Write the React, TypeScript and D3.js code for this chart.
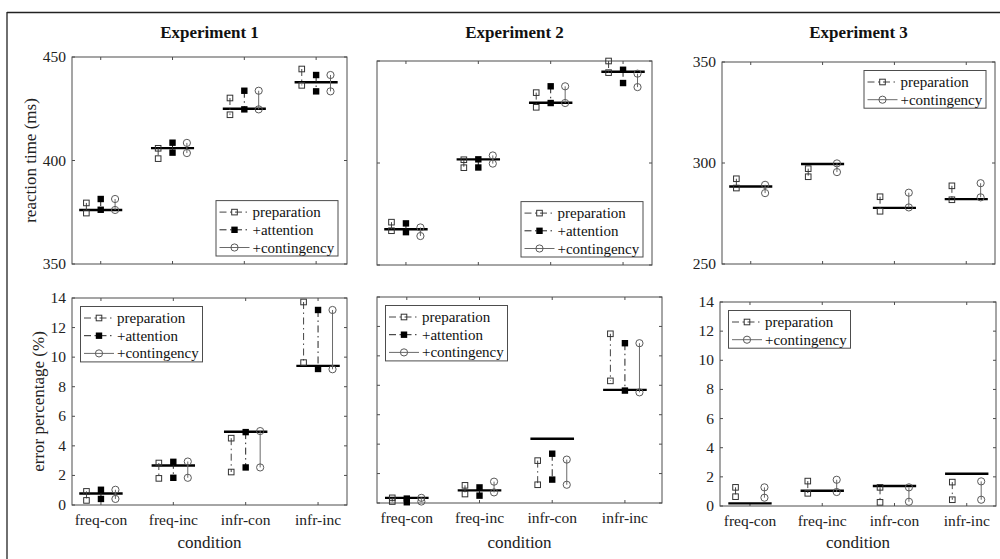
import React from 'react';
import * as d3 from 'd3';

const conditions = ['freq-con', 'freq-inc', 'infr-con', 'infr-inc'];

// reaction time (ms): observed mean and [from, to] per model variant
const rt1Observed = [376.1, 406.0, 425.0, 437.8];
const rt1Preparation = [[379.5, 374.6], [405.9, 400.9], [430.2, 422.1], [444.2, 436.3]];
const rt1Attention = [[381.4, 376.2], [408.6, 403.8], [433.7, 424.7], [441.3, 433.4]];
const rt1Contingency = [[381.4, 376.1], [408.5, 403.6], [433.7, 424.7], [441.3, 433.4]];

const rt2Observed = [367.5, 401.8, 429.5, 444.7];
const rt2Preparation = [[371.0, 366.8], [401.6, 397.7], [434.5, 427.3], [450.0, 444.3]];
const rt2Attention = [[370.4, 366.1], [401.8, 397.8], [437.6, 429.4], [445.7, 439.2]];
const rt2Contingency = [[368.4, 364.2], [403.7, 399.7], [437.6, 429.4], [443.8, 437.2]];

const rt3Observed = [288.4, 299.5, 277.8, 282.1];
const rt3Preparation = [[292.2, 287.6], [297.2, 293.2], [283.3, 276.1], [288.7, 281.8]];
const rt3Contingency = [[289.2, 285.1], [299.8, 295.5], [285.3, 278.0], [290.0, 283.0]];

// error percentage (%)
const err1Observed = [0.78, 2.67, 4.95, 9.41];
const err1Preparation = [[0.92, 0.31], [2.84, 1.80], [4.52, 2.23], [13.73, 9.63]];
const err1Attention = [[1.03, 0.41], [2.92, 1.84], [4.93, 2.54], [13.19, 9.20]];
const err1Contingency = [[1.03, 0.41], [2.94, 1.84], [5.0, 2.54], [13.19, 9.18]];

const err2Observed = [0.35, 0.86, 4.37, 7.69];
const err2Preparation = [[0.35, 0.1], [1.2, 0.61], [2.88, 1.24], [11.5, 8.3]];
const err2Attention = [[0.3, 0.05], [1.06, 0.5], [3.35, 1.59], [10.86, 7.64]];
const err2Contingency = [[0.35, 0.1], [1.45, 0.72], [2.95, 1.24], [10.86, 7.52]];

const err3Observed = [0.18, 1.05, 1.37, 2.21];
const err3Preparation = [[1.28, 0.64], [1.71, 0.87], [1.28, 0.25], [1.64, 0.43]];
const err3Contingency = [[1.28, 0.57], [1.80, 0.96], [1.28, 0.29], [1.69, 0.43]];

const rtTicksA = [350, 400, 450];
const rtTicksB = [250, 300, 350];
const errTicks = [0, 2, 4, 6, 8, 10, 12, 14];

const FONT = "'Liberation Serif', 'Times New Roman', 'DejaVu Serif', serif";
const AXIS = '#4d4d4d';
const DASHDOT = '7,3.5,1.5,3.5';

const styles: any = {
  preparation: { label: 'preparation', marker: 'square', dash: DASHDOT, color: '#444' },
  attention: { label: '+attention', marker: 'filled', dash: DASHDOT, color: '#222' },
  contingency: { label: '+contingency', marker: 'circle', dash: null, color: '#6a6a6a' },
};

const panels: any[] = [
  {
    title: 'Experiment 1', box: { l: 72, t: 57, r: 347, b: 264 }, xDomain: [0.6, 4.43],
    yDomain: [350, 450], yTicks: rtTicksA, yLabels: true, xLabels: false, yLabel: 'reaction time (ms)',
    observed: rt1Observed, legend: 'se',
    series: [['preparation', rt1Preparation], ['attention', rt1Attention], ['contingency', rt1Contingency]],
  },
  {
    title: 'Experiment 2', box: { l: 377, t: 61, r: 652, b: 265 }, xDomain: [0.6, 4.4],
    yDomain: [350, 450], yTicks: rtTicksA, yLabels: false, xLabels: false,
    observed: rt2Observed, legend: 'se',
    series: [['preparation', rt2Preparation], ['attention', rt2Attention], ['contingency', rt2Contingency]],
  },
  {
    title: 'Experiment 3', box: { l: 722, t: 62, r: 995, b: 264 }, xDomain: [0.6, 4.4],
    yDomain: [250, 350], yTicks: rtTicksB, yLabels: true, xLabels: false,
    observed: rt3Observed, legend: 'ne',
    series: [['preparation', rt3Preparation], ['contingency', rt3Contingency]],
  },
  {
    box: { l: 72, t: 298, r: 347, b: 505 }, xDomain: [0.6, 4.4],
    yDomain: [0, 14], yTicks: errTicks, yLabels: true, xLabels: true, yLabel: 'error percentage (%)',
    observed: err1Observed, legend: 'nw',
    series: [['preparation', err1Preparation], ['attention', err1Attention], ['contingency', err1Contingency]],
  },
  {
    box: { l: 377, t: 297, r: 662, b: 503 }, xDomain: [0.59, 4.51],
    yDomain: [0, 14], yTicks: errTicks, yLabels: false, xLabels: true,
    observed: err2Observed, legend: 'nw',
    series: [['preparation', err2Preparation], ['attention', err2Attention], ['contingency', err2Contingency]],
  },
  {
    box: { l: 720, t: 302, r: 996, b: 506 }, xDomain: [0.585, 4.405],
    yDomain: [0, 14], yTicks: errTicks, yLabels: true, xLabels: true,
    observed: err3Observed, legend: 'nw',
    series: [['preparation', err3Preparation], ['contingency', err3Contingency]],
  },
];

function Marker({ kind, x, y }: any) {
  if (kind === 'circle') return <circle cx={x} cy={y} r={3.6} fill="none" stroke="#5a5a5a" strokeWidth={1} />;
  if (kind === 'filled') return <rect x={x - 3.2} y={y - 3.2} width={6.4} height={6.4} fill="#000" />;
  return <rect x={x - 2.8} y={y - 2.8} width={5.6} height={5.6} fill="none" stroke="#333" strokeWidth={1} />;
}

function Legend({ box, corner, keys }: any) {
  const w = 122;
  const h = 20 + (keys.length - 1) * 17.7;
  const left = corner === 'nw' ? box.l + 8.5 : box.r - 9 - w;
  const top = corner === 'se' ? box.b - 8 - h : box.t + 8.5;
  return (
    <g>
      <rect x={left} y={top} width={w} height={h} fill="#fff" stroke={AXIS} strokeWidth={1} />
      {keys.map((k: string, i: number) => {
        const s = styles[k];
        const cy = top + 11.5 + i * 17.7;
        return (
          <g key={k}>
            <line x1={left + 3.5} x2={left + 33.5} y1={cy} y2={cy} stroke={s.color} strokeWidth={1}
              strokeDasharray={s.dash || undefined} />
            <Marker kind={s.marker} x={left + 18.5} y={cy} />
            <text x={left + 36.5} y={cy + 5} fontSize={15} style={{ fontFamily: FONT }} fill="#111">{s.label}</text>
          </g>
        );
      })}
    </g>
  );
}

function Panel({ p }: any) {
  const { box } = p;
  const x = d3.scaleLinear().domain(p.xDomain).range([box.l, box.r]);
  const y = d3.scaleLinear().domain(p.yDomain).range([box.b, box.t]);
  const offsets = p.series.length === 3 ? [-0.2, 0, 0.2] : [-0.2, 0.2];
  const tickLen = 3;
  const cx = (box.l + box.r) / 2;
  const cy = (box.t + box.b) / 2;
  return (
    <g>
      <rect x={box.l} y={box.t} width={box.r - box.l} height={box.b - box.t} fill="#fff" stroke={AXIS} strokeWidth={1} />
      {conditions.map((c, i) => (
        <g key={c}>
          <line x1={x(i + 1)} x2={x(i + 1)} y1={box.b} y2={box.b - tickLen} stroke={AXIS} />
          <line x1={x(i + 1)} x2={x(i + 1)} y1={box.t} y2={box.t + tickLen} stroke={AXIS} />
          {p.xLabels && (
            <text x={x(i + 1)} y={box.b + 20} textAnchor="middle" fontSize={15.5} style={{ fontFamily: FONT }} fill="#222">{c}</text>
          )}
        </g>
      ))}
      {p.yTicks.map((t: number) => (
        <g key={t}>
          <line x1={box.l} x2={box.l + tickLen} y1={y(t)} y2={y(t)} stroke={AXIS} />
          <line x1={box.r} x2={box.r - tickLen} y1={y(t)} y2={y(t)} stroke={AXIS} />
          {p.yLabels && (
            <text x={box.l - 6} y={y(t) + 5} textAnchor="end" fontSize={15.5} style={{ fontFamily: FONT }} fill="#222">{t}</text>
          )}
        </g>
      ))}
      {p.observed.map((v: number, i: number) => (
        <line key={i} x1={x(i + 1 - 0.3)} x2={x(i + 1 + 0.3)} y1={y(v)} y2={y(v)} stroke="#000" strokeWidth={2.4} />
      ))}
      {p.series.map(([key, vals]: any, si: number) => {
        const s = styles[key];
        return (
          <g key={key}>
            {vals.map((pair: number[], i: number) => {
              const px = x(i + 1 + offsets[si]);
              return (
                <g key={i}>
                  <line x1={px} x2={px} y1={y(pair[0])} y2={y(pair[1])} stroke={s.color} strokeWidth={1}
                    strokeDasharray={s.dash || undefined} />
                  <Marker kind={s.marker} x={px} y={y(pair[0])} />
                  <Marker kind={s.marker} x={px} y={y(pair[1])} />
                </g>
              );
            })}
          </g>
        );
      })}
      <Legend box={box} corner={p.legend} keys={p.series.map((s: any) => s[0])} />
      {p.title && (
        <text x={cx} y={38} textAnchor="middle" fontSize={17} fontWeight="bold" style={{ fontFamily: FONT }} fill="#111">{p.title}</text>
      )}
      {p.xLabels && (
        <text x={cx} y={547.5} textAnchor="middle" fontSize={17} style={{ fontFamily: FONT }} fill="#222">condition</text>
      )}
      {p.yLabel && (
        <text transform={`translate(${p.yDomain[1] === 14 ? 44 : 36},${cy}) rotate(-90)`} textAnchor="middle"
          fontSize={17} style={{ fontFamily: FONT }} fill="#222">{p.yLabel}</text>
      )}
    </g>
  );
}

export default function App() {
  return (
    <svg width={1000} height={559} style={{ position: 'absolute', left: 0, top: 0, background: '#fff' }}>
      <rect x={0} y={0} width={1000} height={559} fill="#fff" />
      <line x1={7} x2={1000} y1={12.5} y2={12.5} stroke="#222" strokeWidth={1.3} />
      <line x1={7} x2={7} y1={12} y2={559} stroke="#222" strokeWidth={1.3} />
      {panels.map((p, i) => <Panel key={i} p={p} />)}
    </svg>
  );
}
